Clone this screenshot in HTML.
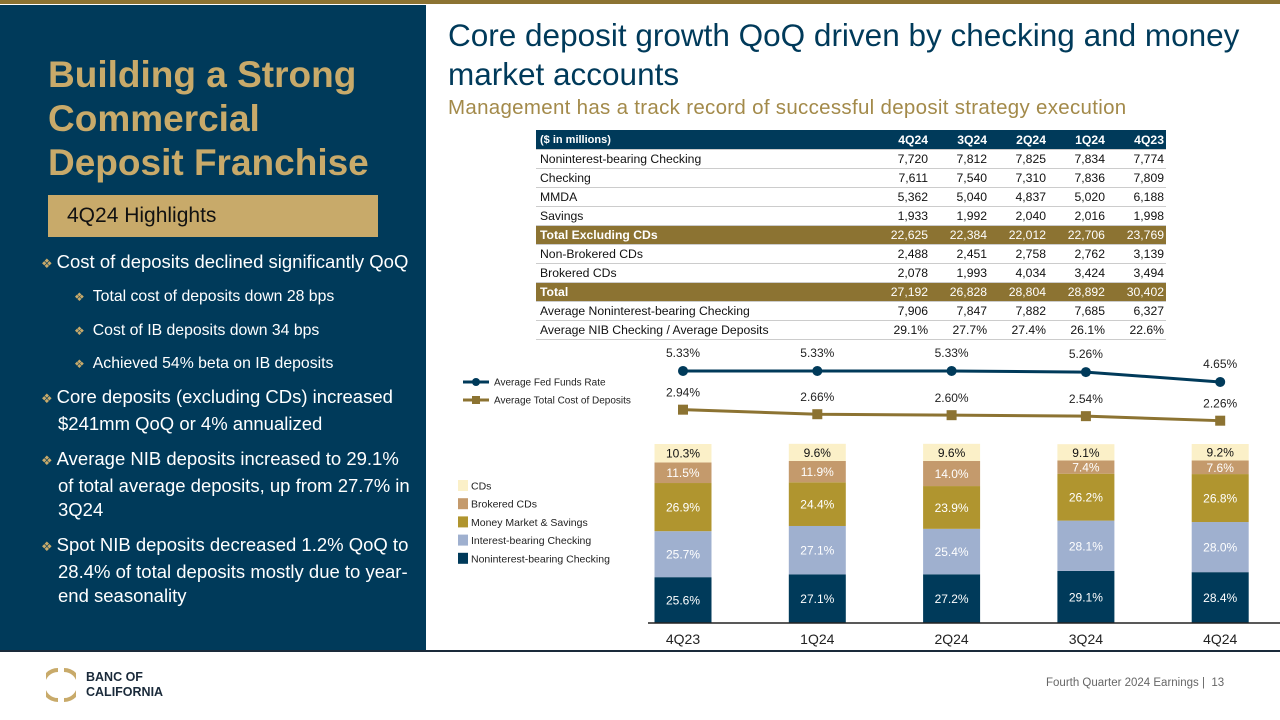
<!DOCTYPE html>
<html><head><meta charset="utf-8">
<style>
body{margin:0;width:1280px;height:720px;overflow:hidden;background:#fff;font-family:"Liberation Sans",sans-serif;position:relative}
.a{position:absolute}
.lp{left:0;top:5px;width:426px;height:646px;background:#003a5a}
.bul{color:#fff;font-size:18.5px;line-height:24.5px;white-space:nowrap}
.bul .d{color:#c8aa6a;font-size:13px;margin-right:4px}
.sub{color:#fff;font-size:15.8px;white-space:nowrap}
table{border-collapse:collapse;font-size:12.2px;color:#111}
td{padding:0 2px;height:18px;text-align:right;border-bottom:1px solid #ccc}
td:first-child{text-align:left;padding-left:4px}
tr.h td{background:#003a5a;color:#fff;font-weight:bold;height:19px}
tr.g td{background:#8c7332;color:#fff}
tr.g td:first-child{font-weight:bold}
</style></head><body>
<div class="a" style="left:0;top:0;width:1280px;height:4px;background:#8c7332"></div>
<div class="a lp"></div>
<div class="a" style="left:48px;top:53px;color:#c8aa6a;font-size:37px;font-weight:bold;line-height:44px;white-space:nowrap">Building a Strong<br>Commercial<br>Deposit Franchise</div>
<div class="a" style="left:48px;top:195px;width:330px;height:42px;background:#c8aa6a;color:#111;font-size:21px;line-height:42px;box-sizing:border-box;padding-left:19px">4Q24 Highlights</div>
<div class="a bul" style="left:41px;top:250px"><span class="d">❖</span>Cost of deposits declined significantly QoQ</div>
<div class="a sub" style="left:74px;top:288px"><span style="color:#c8aa6a;font-size:12px;margin-right:8px">❖</span>Total cost of deposits down 28 bps</div>
<div class="a sub" style="left:74px;top:322px"><span style="color:#c8aa6a;font-size:12px;margin-right:8px">❖</span>Cost of IB deposits down 34 bps</div>
<div class="a sub" style="left:74px;top:355px"><span style="color:#c8aa6a;font-size:12px;margin-right:8px">❖</span>Achieved 54% beta on IB deposits</div>
<div class="a bul" style="left:41px;top:385px"><span class="d">❖</span>Core deposits (excluding CDs) increased<br><span style="padding-left:17px">$241mm QoQ or 4% annualized</span></div>
<div class="a bul" style="left:41px;top:447px"><span class="d">❖</span>Average NIB deposits increased to 29.1%<br><span style="padding-left:17px">of total average deposits, up from 27.7% in</span><br><span style="padding-left:17px">3Q24</span></div>
<div class="a bul" style="left:41px;top:533px"><span class="d">❖</span>Spot NIB deposits decreased 1.2% QoQ to<br><span style="padding-left:17px">28.4% of total deposits mostly due to year-</span><br><span style="padding-left:17px">end seasonality</span></div>

<div class="a" style="left:448px;top:16px;color:#003a5a;font-size:31.5px;line-height:39px;white-space:nowrap">Core deposit growth QoQ driven by checking and money<br>market accounts</div>
<div class="a" style="left:448px;top:96px;color:#a38a4a;font-size:20.5px;white-space:nowrap;letter-spacing:0.3px">Management has a track record of successful deposit strategy execution</div>

<table class="a" style="left:536px;top:130px;width:630px">
<tr class="h"><td style="font-size:11px">($ in millions)</td><td>4Q24</td><td>3Q24</td><td>2Q24</td><td>1Q24</td><td>4Q23</td></tr>
<tr><td>Noninterest-bearing Checking</td><td>7,720</td><td>7,812</td><td>7,825</td><td>7,834</td><td>7,774</td></tr>
<tr><td>Checking</td><td>7,611</td><td>7,540</td><td>7,310</td><td>7,836</td><td>7,809</td></tr>
<tr><td>MMDA</td><td>5,362</td><td>5,040</td><td>4,837</td><td>5,020</td><td>6,188</td></tr>
<tr><td>Savings</td><td>1,933</td><td>1,992</td><td>2,040</td><td>2,016</td><td>1,998</td></tr>
<tr class="g"><td>Total Excluding CDs</td><td>22,625</td><td>22,384</td><td>22,012</td><td>22,706</td><td>23,769</td></tr>
<tr><td>Non-Brokered CDs</td><td>2,488</td><td>2,451</td><td>2,758</td><td>2,762</td><td>3,139</td></tr>
<tr><td>Brokered CDs</td><td>2,078</td><td>1,993</td><td>4,034</td><td>3,424</td><td>3,494</td></tr>
<tr class="g"><td>Total</td><td>27,192</td><td>26,828</td><td>28,804</td><td>28,892</td><td>30,402</td></tr>
<tr><td>Average Noninterest-bearing Checking</td><td>7,906</td><td>7,847</td><td>7,882</td><td>7,685</td><td>6,327</td></tr>
<tr><td>Average NIB Checking / Average Deposits</td><td>29.1%</td><td>27.7%</td><td>27.4%</td><td>26.1%</td><td>22.6%</td></tr>
</table>

<svg class="a" style="left:0;top:0" width="1280" height="720" id="chart"></svg>
<div class="a" style="left:0;top:650px;width:1280px;height:2px;background:#1a2a3a"></div>
<svg class="a" style="left:46px;top:668px" width="30" height="34"><path d="M12 2 A15 15 0 0 0 12 32" stroke="#c8aa6a" stroke-width="4" fill="none"/><path d="M18 2 A15 15 0 0 1 18 32" stroke="#c8aa6a" stroke-width="4" fill="none"/></svg>
<div class="a" style="left:86px;top:670px;color:#1a2a3a;font-size:12.5px;font-weight:bold;line-height:15px">BANC OF<br>CALIFORNIA</div>
<div class="a" style="left:1046px;top:677px;color:#666;font-size:11.5px">Fourth Quarter 2024 Earnings |&nbsp; 13</div>

<script>
const categories=["4Q23","1Q24","2Q24","3Q24","4Q24"];
const fedFunds=[5.33,5.33,5.33,5.26,4.65];
const costDeposits=[2.94,2.66,2.60,2.54,2.26];
const nibChecking=[25.6,27.1,27.2,29.1,28.4];
const ibChecking=[25.7,27.1,25.4,28.1,28.0];
const mmSavings=[26.9,24.4,23.9,26.2,26.8];
const brokeredCDs=[11.5,11.9,14.0,7.4,7.6];
const cds=[10.3,9.6,9.6,9.1,9.2];
const seriesNames=["Noninterest-bearing Checking","Interest-bearing Checking","Money Market & Savings","Brokered CDs","CDs"];
const seriesColors=["#003a5a","#9fb0cf","#b0952f","#c49a6c","#fbf0c8"];
const seriesText=["#fff","#fff","#fff","#fff","#111"];
const series=[nibChecking,ibChecking,mmSavings,brokeredCDs,cds];
const svg=document.getElementById('chart');const NS="http://www.w3.org/2000/svg";
function mk(t,a,p){const e=document.createElementNS(NS,t);for(const k in a)e.setAttribute(k,a[k]);(p||svg).appendChild(e);return e;}
const x=i=>683+i*134.3;
const yBar=v=>623-v*1.79;
const yRate=v=>457.3-v*16.2;
const bw=57;
categories.forEach((c,i)=>{
 let acc=0;
 series.forEach((s,k)=>{
  const y1=yBar(acc),y2=yBar(acc+s[i]);
  const r=mk('rect',{x:x(i)-bw/2,y:y2,width:bw,height:y1-y2,fill:seriesColors[k]});
  
  
  const t=mk('text',{x:x(i),y:(y1+y2)/2+4.5,'text-anchor':'middle','font-size':12,fill:seriesText[k],'font-family':'Liberation Sans'});
  t.textContent=s[i].toFixed(1)+'%';
  
  
  acc+=s[i];
 });
 const xl=mk('text',{x:x(i),y:644,'text-anchor':'middle','font-size':14,fill:'#222','font-family':'Liberation Sans'});
 xl.textContent=c;
 
 
});
const ax=mk('line',{x1:648,y1:623,x2:1280,y2:623,stroke:'#222','stroke-width':1.5});


function line(vals,color,marker,name,dy){
 const p=mk('polyline',{points:vals.map((v,i)=>x(i)+','+yRate(v)).join(' '),fill:'none',stroke:color,'stroke-width':3});
 
 
 vals.forEach((v,i)=>{
  const m=marker=='c'?mk('circle',{cx:x(i),cy:yRate(v),r:5,fill:color}):mk('rect',{x:x(i)-5,y:yRate(v)-5,width:10,height:10,fill:color});
  
  
  const t=mk('text',{x:x(i),y:yRate(v)+dy,'text-anchor':'middle','font-size':12,fill:'#222','font-family':'Liberation Sans'});
  t.textContent=v.toFixed(2)+'%';
  
  
 });
}
line(fedFunds,'#003a5a','c','fed-funds-line',-14);
line(costDeposits,'#8c7332','s','cost-deposits-line',-13);
[["Average Fed Funds Rate","#003a5a","c",382],["Average Total Cost of Deposits","#8c7332","s",400]].forEach(l=>{
 mk('line',{x1:463,y1:l[3],x2:489,y2:l[3],stroke:l[1],'stroke-width':3});
 if(l[2]=='c')mk('circle',{cx:476,cy:l[3],r:4,fill:l[1]});else mk('rect',{x:472,y:l[3]-4,width:8,height:8,fill:l[1]});
 const t=mk('text',{x:494,y:l[3]+3.5,'font-size':10,fill:'#222','font-family':'Liberation Sans'});
 t.textContent=l[0];
 
 
});
for(let k=4;k>=0;k--){
 const yy=480+(4-k)*18.2;
 mk('rect',{x:458,y:yy,width:10,height:11,fill:seriesColors[k]});
 const t=mk('text',{x:471,y:yy+9.5,'font-size':10.5,fill:'#222','font-family':'Liberation Sans'});
 t.textContent=seriesNames[k];
 
 
}
</script>
</body></html>
